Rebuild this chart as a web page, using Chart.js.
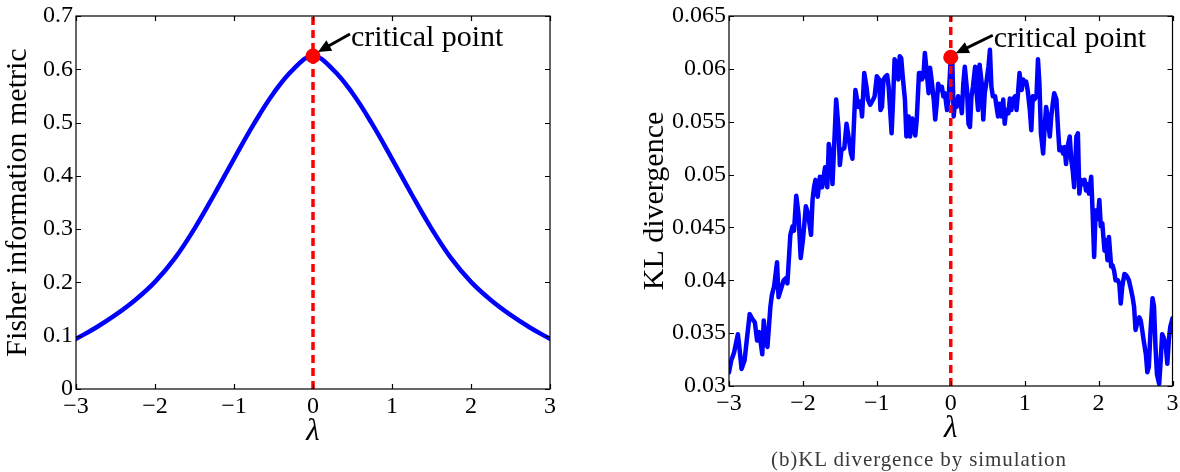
<!DOCTYPE html>
<html>
<head>
<meta charset="utf-8">
<script src="https://cdn.jsdelivr.net/npm/chart.js@4.4.1/dist/chart.umd.min.js"></script>
<style>
  html, body { margin: 0; padding: 0; background: #fff; width: 1180px; height: 472px; overflow: hidden; }
  .panel { position: absolute; top: 0; height: 472px; }
  #caption { position: absolute; left: 600px; width: 638px; top: 447px; text-align: center;
             font: 21px "Liberation Serif", serif; letter-spacing: 0.9px; color: #3a3a3a; white-space: nowrap; }
</style>
</head>
<body>
<div class="panel" style="left:0;width:600px"><canvas id="fisher" width="600" height="472"></canvas></div>
<div class="panel" style="left:600px;width:580px"><canvas id="kl" width="580" height="472"></canvas></div>
<div id="caption">(b)KL divergence by simulation</div>
<script>
// ─── Data ──────────────────────────────────────────────────────
const X_TICKS = [-3, -2, -1, 0, 1, 2, 3];
const X_TICK_LABELS = ['−3', '−2', '−1', '0', '1', '2', '3'];

const FISHER_Y_TICKS = [0, 0.1, 0.2, 0.3, 0.4, 0.5, 0.6, 0.7];
const FISHER_Y_LABELS = ['0', '0.1', '0.2', '0.3', '0.4', '0.5', '0.6', '0.7'];

const KL_Y_TICKS = [0.03, 0.035, 0.04, 0.045, 0.05, 0.055, 0.06, 0.065];
const KL_Y_LABELS = ['0.03', '0.035', '0.04', '0.045', '0.05', '0.055', '0.06', '0.065'];

// Fisher information metric
const FISHER_LAMBDA = [-3, -2.75, -2.5, -2.25, -2, -1.75, -1.5, -1.25, -1, -0.75, -0.5, -0.25, 0,
                       0.25, 0.5, 0.75, 1, 1.25, 1.5, 1.75, 2, 2.25, 2.5, 2.75, 3];
const FISHER_VALUES = [0.094, 0.115, 0.139, 0.167, 0.201, 0.245, 0.301, 0.365, 0.432, 0.497, 0.555, 0.600, 0.625,
                       0.600, 0.555, 0.497, 0.432, 0.365, 0.301, 0.245, 0.201, 0.167, 0.139, 0.115, 0.094];

// KL divergence by simulation
const KL_LAMBDA = [
  -3.00, -2.97, -2.93, -2.88, -2.86, -2.83, -2.79, -2.76, -2.72, -2.69, -2.65, -2.62, -2.59, -2.55, -2.53, -2.50,
  -2.48, -2.44, -2.42, -2.39, -2.35, -2.33, -2.30, -2.26, -2.23, -2.21, -2.17, -2.14, -2.12, -2.09, -2.06, -2.03,
  -2.00, -1.96, -1.93, -1.89, -1.87, -1.85, -1.83, -1.80, -1.77, -1.74, -1.70, -1.67, -1.65, -1.62, -1.60, -1.58,
  -1.55, -1.52, -1.50, -1.48, -1.44, -1.41, -1.39, -1.35, -1.33, -1.31, -1.29, -1.25, -1.22, -1.20, -1.17, -1.14,
  -1.12, -1.09, -1.05, -1.03, -1.00, -0.97, -0.95, -0.93, -0.91, -0.88, -0.86, -0.84, -0.80, -0.78, -0.76, -0.74,
  -0.71, -0.69, -0.67, -0.65, -0.62, -0.60, -0.57, -0.55, -0.52, -0.50, -0.48, -0.46, -0.43, -0.41, -0.39, -0.37,
  -0.35, -0.32, -0.30, -0.28, -0.26, -0.23, -0.21, -0.19, -0.17, -0.14, -0.12, -0.10, -0.08, -0.05, -0.03, 0.00,
  0.02, 0.04, 0.06, 0.08, 0.10, 0.13, 0.15, 0.17, 0.19, 0.22, 0.24, 0.26, 0.28, 0.30, 0.33, 0.35,
  0.37, 0.39, 0.42, 0.44, 0.46, 0.48, 0.51, 0.53, 0.55, 0.57, 0.60, 0.62, 0.64, 0.66, 0.69, 0.71,
  0.73, 0.75, 0.78, 0.80, 0.82, 0.84, 0.87, 0.89, 0.91, 0.93, 0.96, 0.98, 1.00, 1.02, 1.04, 1.07,
  1.09, 1.11, 1.13, 1.16, 1.18, 1.20, 1.22, 1.25, 1.27, 1.29, 1.31, 1.34, 1.36, 1.38, 1.40, 1.43,
  1.45, 1.47, 1.49, 1.52, 1.54, 1.56, 1.58, 1.61, 1.63, 1.65, 1.67, 1.70, 1.72, 1.74, 1.76, 1.78,
  1.81, 1.83, 1.85, 1.87, 1.90, 1.92, 1.94, 1.96, 1.99, 2.01, 2.03, 2.05, 2.08, 2.10, 2.12, 2.14,
  2.17, 2.19, 2.21, 2.23, 2.26, 2.28, 2.30, 2.32, 2.35, 2.37, 2.39, 2.41, 2.43, 2.46, 2.48, 2.50,
  2.52, 2.55, 2.57, 2.59, 2.61, 2.64, 2.66, 2.68, 2.70, 2.73, 2.75, 2.77, 2.79, 2.82, 2.84, 2.86,
  2.88, 2.91, 2.93, 2.95, 2.97, 3.00
];
const KL_VALUES = [
  0.0313, 0.0324, 0.0332, 0.0349, 0.0337, 0.0316, 0.0324, 0.0343, 0.0368, 0.0364, 0.0360, 0.0343, 0.0351, 0.0330, 0.0362, 0.0340,
  0.0337, 0.0375, 0.0386, 0.0394, 0.0417, 0.0384, 0.0391, 0.0400, 0.0402, 0.0397, 0.0443, 0.0451, 0.0447, 0.0480, 0.0463, 0.0421,
  0.0438, 0.0470, 0.0463, 0.0443, 0.0476, 0.0488, 0.0495, 0.0479, 0.0498, 0.0488, 0.0507, 0.0488, 0.0529, 0.0517, 0.0491, 0.0523,
  0.0571, 0.0545, 0.0509, 0.0523, 0.0525, 0.0548, 0.0539, 0.0520, 0.0515, 0.0548, 0.0580, 0.0564, 0.0569, 0.0555, 0.0596, 0.0583,
  0.0571, 0.0566, 0.0571, 0.0574, 0.0593, 0.0590, 0.0561, 0.0564, 0.0590, 0.0593, 0.0594, 0.0583, 0.0539, 0.0571, 0.0609, 0.0605,
  0.0590, 0.0612, 0.0610, 0.0593, 0.0571, 0.0536, 0.0555, 0.0536, 0.0553, 0.0545, 0.0537, 0.0552, 0.0596, 0.0596, 0.0590, 0.0593,
  0.0615, 0.0593, 0.0577, 0.0601, 0.0590, 0.0571, 0.0552, 0.0567, 0.0586, 0.0580, 0.0583, 0.0574, 0.0577, 0.0561, 0.0571, 0.0610,
  0.0609, 0.0555, 0.0571, 0.0564, 0.0574, 0.0571, 0.0558, 0.0586, 0.0602, 0.0580, 0.0548, 0.0545, 0.0574, 0.0583, 0.0602, 0.0577,
  0.0561, 0.0604, 0.0586, 0.0552, 0.0577, 0.0586, 0.0602, 0.0618, 0.0583, 0.0574, 0.0574, 0.0564, 0.0555, 0.0567, 0.0555, 0.0571,
  0.0548, 0.0561, 0.0558, 0.0572, 0.0561, 0.0571, 0.0574, 0.0561, 0.0577, 0.0596, 0.0580, 0.0590, 0.0586, 0.0588, 0.0580, 0.0561,
  0.0542, 0.0574, 0.0571, 0.0574, 0.0609, 0.0586, 0.0539, 0.0520, 0.0545, 0.0564, 0.0555, 0.0536, 0.0555, 0.0567, 0.0577, 0.0571,
  0.0545, 0.0523, 0.0526, 0.0520, 0.0526, 0.0510, 0.0526, 0.0536, 0.0514, 0.0504, 0.0488, 0.0536, 0.0539, 0.0482, 0.0495, 0.0491,
  0.0495, 0.0485, 0.0491, 0.0482, 0.0498, 0.0463, 0.0422, 0.0466, 0.0458, 0.0476, 0.0451, 0.0454, 0.0428, 0.0438, 0.0419, 0.0441,
  0.0413, 0.0414, 0.0409, 0.0400, 0.0400, 0.0397, 0.0378, 0.0394, 0.0406, 0.0405, 0.0403, 0.0400, 0.0394, 0.0384, 0.0375, 0.0353,
  0.0359, 0.0365, 0.0362, 0.0353, 0.0343, 0.0330, 0.0313, 0.0318, 0.0349, 0.0383, 0.0375, 0.0337, 0.0311, 0.0302, 0.0324, 0.0349,
  0.0346, 0.0337, 0.0321, 0.0343, 0.0356, 0.0364
];

const CRITICAL_LAMBDA = 0;
const FISHER_CRITICAL = 0.625;
const KL_CRITICAL = 0.0611;

// ─── Helpers ───────────────────────────────────────────────────
const SERIF = '"Liberation Serif", "Times New Roman", serif';
const pts = (xs, ys) => xs.map((x, i) => ({ x, y: ys[i] }));

// MATLAB-like box with inward ticks + the "critical point" arrow
function axesBox(note) {
  return {
    id: 'axesBox',
    afterDraw(chart) {
      const { ctx, chartArea: a, scales: { x, y } } = chart;
      ctx.save();
      ctx.strokeStyle = '#000';
      ctx.lineWidth = 1.2;
      ctx.strokeRect(a.left, a.top, a.right - a.left, a.bottom - a.top);
      ctx.beginPath();
      x.ticks.forEach(t => {
        const px = Math.round(x.getPixelForValue(t.value)) + 0.5;
        ctx.moveTo(px, a.bottom); ctx.lineTo(px, a.bottom - 5);
        ctx.moveTo(px, a.top); ctx.lineTo(px, a.top + 5);
      });
      y.ticks.forEach(t => {
        const py = Math.round(y.getPixelForValue(t.value)) + 0.5;
        ctx.moveTo(a.left, py); ctx.lineTo(a.left + 5, py);
        ctx.moveTo(a.right, py); ctx.lineTo(a.right - 5, py);
      });
      ctx.stroke();

      // annotation
      const dx = x.getPixelForValue(CRITICAL_LAMBDA);
      const dy = y.getPixelForValue(note.value);
      const tx = dx + note.tail[0], ty = dy + note.tail[1];
      const hx = dx + 5, hy = dy - 4;
      const ang = Math.atan2(hy - ty, hx - tx);
      ctx.strokeStyle = '#000';
      ctx.fillStyle = '#000';
      ctx.lineWidth = 3;
      ctx.beginPath();
      ctx.moveTo(tx, ty);
      ctx.lineTo(hx - 9 * Math.cos(ang), hy - 9 * Math.sin(ang));
      ctx.stroke();
      ctx.beginPath();
      ctx.moveTo(hx, hy);
      ctx.lineTo(hx - 13 * Math.cos(ang) + 6 * Math.sin(ang), hy - 13 * Math.sin(ang) - 6 * Math.cos(ang));
      ctx.lineTo(hx - 13 * Math.cos(ang) - 6 * Math.sin(ang), hy - 13 * Math.sin(ang) + 6 * Math.cos(ang));
      ctx.closePath();
      ctx.fill();
      ctx.font = '30px ' + SERIF;
      ctx.textBaseline = 'alphabetic';
      ctx.fillText('critical point', dx + note.text[0], dy + note.text[1]);
      ctx.restore();
    }
  };
}

function makeChart(id, cfg) {
  return new Chart(document.getElementById(id), {
    type: 'line',
    data: {
      datasets: [
        { data: [{ x: CRITICAL_LAMBDA, y: cfg.critical }], showLine: false,
          pointRadius: 7.5, pointBackgroundColor: '#ff0000', pointBorderWidth: 0 },
        { data: [{ x: CRITICAL_LAMBDA, y: cfg.yTicks[0] }, { x: CRITICAL_LAMBDA, y: cfg.yTicks[cfg.yTicks.length - 1] }],
          borderColor: '#ff0000', borderWidth: 3.5, borderDash: [8, 5], pointRadius: 0 },
        { data: pts(cfg.xs, cfg.ys), borderColor: '#0000ff', borderWidth: cfg.lineWidth,
          pointRadius: 0, tension: cfg.smooth ? 0.4 : 0,
          borderJoinStyle: 'round', borderCapStyle: 'round' }
      ]
    },
    options: {
      responsive: false,
      animation: false,
      events: [],
      layout: { padding: cfg.padding },
      plugins: { legend: { display: false }, tooltip: { enabled: false } },
      scales: {
        x: {
          type: 'linear', min: -3, max: 3,
          grid: { display: false, drawTicks: false }, border: { display: false },
          afterBuildTicks: s => { s.ticks = X_TICKS.map(v => ({ value: v })); },
          afterFit: s => { s.height = cfg.xHeight; s.paddingLeft = 0; s.paddingRight = 0; },
          ticks: { color: '#000', padding: 3, maxRotation: 0, autoSkip: false,
                   font: { family: SERIF, size: 24 }, callback: (v, i) => X_TICK_LABELS[i] },
          title: { display: true, text: 'λ', color: '#000', padding: { top: 0, bottom: cfg.lambdaPad },
                   font: { family: SERIF, size: 31, style: 'italic' } }
        },
        y: {
          min: cfg.yTicks[0], max: cfg.yTicks[cfg.yTicks.length - 1],
          grid: { display: false, drawTicks: false }, border: { display: false },
          afterBuildTicks: s => { s.ticks = cfg.yTicks.map(v => ({ value: v })); },
          afterFit: s => { s.width = cfg.yWidth; s.paddingTop = 0; s.paddingBottom = 0; },
          ticks: { color: '#000', padding: 3, autoSkip: false,
                   font: { family: SERIF, size: 24 }, callback: (v, i) => cfg.yLabels[i] },
          title: { display: true, text: cfg.yTitle, color: '#000', padding: { top: cfg.titlePad, bottom: 0 },
                   font: { family: SERIF, size: 30 } }
        }
      }
    },
    plugins: [axesBox(cfg.note)]
  });
}

makeChart('fisher', {
  xs: FISHER_LAMBDA, ys: FISHER_VALUES, smooth: true, lineWidth: 4.5,
  yTicks: FISHER_Y_TICKS, yLabels: FISHER_Y_LABELS, yTitle: 'Fisher information metric',
  critical: FISHER_CRITICAL,
  padding: { left: 0, right: 50, top: 16, bottom: 0 }, yWidth: 76, xHeight: 83, titlePad: 0, lambdaPad: 22,
  note: { value: FISHER_CRITICAL, tail: [37, -22], text: [38, -10] }
});

makeChart('kl', {
  xs: KL_LAMBDA, ys: KL_VALUES, smooth: false, lineWidth: 4.5,
  yTicks: KL_Y_TICKS, yLabels: KL_Y_LABELS, yTitle: 'KL divergence',
  critical: KL_CRITICAL,
  padding: { left: 0, right: 5, top: 16, bottom: 0 }, yWidth: 129, xHeight: 86, titlePad: 37, lambdaPad: 25,
  note: { value: KL_CRITICAL, tail: [42, -22], text: [43, -10] }
});
</script>
</body>
</html>
